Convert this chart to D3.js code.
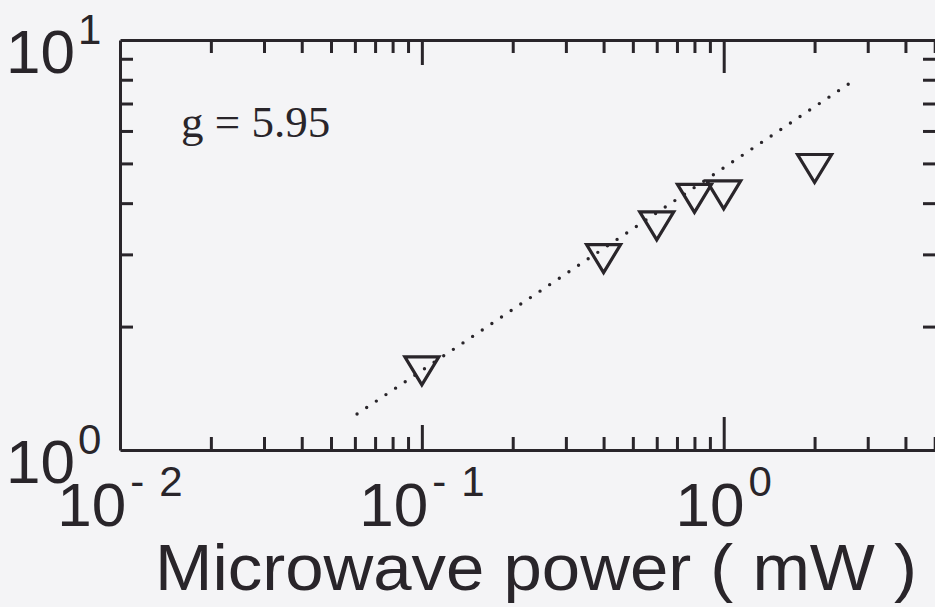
<!DOCTYPE html>
<html>
<head>
<meta charset="utf-8">
<script src="https://cdn.jsdelivr.net/npm/d3@7"></script>
<style>
  body { margin: 0; background: #f4f4f6; }
  svg { display: block; }
</style>
</head>
<body>
<script>
// data
const powerMW = [0.1, 0.4, 0.6, 0.8, 1.0, 2.0];
const signal = [1.56, 2.93, 3.52, 4.11, 4.19, 4.86];
const fitX = [0.061, 2.74];
const fitY = [1.224, 8.03];
const fitLabel = 'g = 5.95';

const xDomain = [0.01, 5.05];
const yDomain = [1, 10];
const xMajor = [0.01, 0.1, 1];
const xMajorSup = [['-', '2'], ['-', '1'], ['0']];
const yMajor = [10, 1];
const yMajorSup = [['1'], ['0']];
const xTitle = 'Microwave power ( mW )';

function main() {
  const width = 935;
  const height = 607;
  const ink = '#29252a';

  const svg = d3.select('body').append('svg')
    .attr('width', width)
    .attr('height', height);

  svg.append('rect')
    .attr('width', width)
    .attr('height', height)
    .attr('fill', '#f4f4f6');

  const x = d3.scaleLog().domain(xDomain).range([120, 936]);
  const y = d3.scaleLog().domain(yDomain).range([450, 40]);

  const minorX = [];
  [0.01, 0.1, 1].forEach(d => d3.range(2, 10).forEach(k => {
    if (d * k < xDomain[1]) minorX.push(d * k);
  }));
  const minorY = d3.range(2, 10);

  // major tick lengths differ a little on the original
  const majorLen = d => (d === 1 ? 33 : 25);

  function style(g) {
    g.selectAll('path.domain').attr('stroke', ink).attr('stroke-width', 3);
    g.selectAll('line').attr('stroke', ink).attr('stroke-width', 3);
    g.selectAll('text').remove();
  }

  // bottom + top
  svg.append('g').attr('transform', `translate(0,${y(1)})`)
    .call(d3.axisBottom(x).tickValues(minorX).tickSize(-13).tickSizeOuter(0).tickFormat(''))
    .call(style);
  svg.append('g').attr('transform', `translate(0,${y(1)})`)
    .call(d3.axisBottom(x).tickValues(xMajor.slice(1)).tickSize(-25).tickSizeOuter(0).tickFormat(''))
    .call(style)
    .call(g => g.select('.domain').remove())
    .selectAll('.tick line').attr('y2', d => -majorLen(d));
  svg.append('g').attr('transform', `translate(0,${y(10)})`)
    .call(d3.axisTop(x).tickValues(minorX).tickSize(-13).tickSizeOuter(0).tickFormat(''))
    .call(style);
  svg.append('g').attr('transform', `translate(0,${y(10)})`)
    .call(d3.axisTop(x).tickValues(xMajor.slice(1)).tickSize(-25).tickSizeOuter(0).tickFormat(''))
    .call(style)
    .call(g => g.select('.domain').remove())
    .selectAll('.tick line').attr('y2', d => majorLen(d));

  // left + right
  svg.append('g').attr('transform', `translate(${x(xDomain[0])},0)`)
    .call(d3.axisLeft(y).tickValues(minorY).tickSize(-13).tickSizeOuter(0).tickFormat(''))
    .call(style);
  svg.append('g').attr('transform', `translate(${x(xDomain[1])},0)`)
    .call(d3.axisRight(y).tickValues(minorY).tickSize(-13).tickSizeOuter(0).tickFormat(''))
    .call(style);

  // tick labels, sans with superscript exponents
  const font = 'Liberation Sans, Arial, sans-serif';

  xMajor.forEach((v, i) => {
    const t = svg.append('text')
      .attr('x', x(v))
      .attr('y', y(1) + 76)
      .attr('text-anchor', 'middle')
      .attr('font-family', font)
      .attr('font-size', 62)
      .attr('fill', ink);
    t.append('tspan').text('10');
    xMajorSup[i].forEach((s, j) => {
      t.append('tspan')
        .attr('dx', j === 0 ? 4 : 15)
        .attr('dy', j === 0 ? -30 : 0)
        .attr('font-size', 42)
        .text(s);
    });
  });

  yMajor.forEach((v, i) => {
    const t = svg.append('text')
      .attr('x', 6)
      .attr('y', y(v) + 33)
      .attr('font-family', font)
      .attr('font-size', 62)
      .attr('fill', ink);
    t.append('tspan').text('10');
    yMajorSup[i].forEach(s => {
      t.append('tspan')
        .attr('dx', 3)
        .attr('dy', -29)
        .attr('font-size', 42)
        .text(s);
    });
  });

  svg.append('text')
    .attr('x', 155)
    .attr('y', 590)
    .attr('font-family', font)
    .attr('font-size', 64)
    .attr('textLength', 762)
    .attr('lengthAdjust', 'spacingAndGlyphs')
    .attr('fill', ink)
    .text(xTitle);

  // dotted fit line
  const fit = fitX.map((d, i) => [d, fitY[i]]);
  svg.append('path')
    .datum(fit)
    .attr('d', d3.line().x(d => x(d[0])).y(d => y(d[1])))
    .attr('fill', 'none')
    .attr('stroke', ink)
    .attr('stroke-width', 3.4)
    .attr('stroke-linecap', 'round')
    .attr('stroke-dasharray', '0 11.6');

  svg.append('text')
    .attr('x', 181)
    .attr('y', 137)
    .attr('font-family', 'Liberation Serif, Times New Roman, serif')
    .attr('font-size', 45)
    .attr('fill', ink)
    .text(fitLabel);

  // open down-triangles
  const tri = (cx, cy) => {
    const p = d3.path();
    p.moveTo(cx - 17, cy - 14);
    p.lineTo(cx + 17, cy - 14);
    p.lineTo(cx, cy + 14);
    p.closePath();
    return p.toString();
  };

  svg.append('g')
    .selectAll('.data-point')
    .data(powerMW.map((d, i) => [d, signal[i]]))
    .enter()
    .append('path')
    .attr('d', d => tri(x(d[0]), y(d[1])))
    .attr('fill', 'none')
    .attr('stroke', ink)
    .attr('stroke-width', 3.2)
    .attr('stroke-linejoin', 'miter');
}

main();
</script>
</body>
</html>
